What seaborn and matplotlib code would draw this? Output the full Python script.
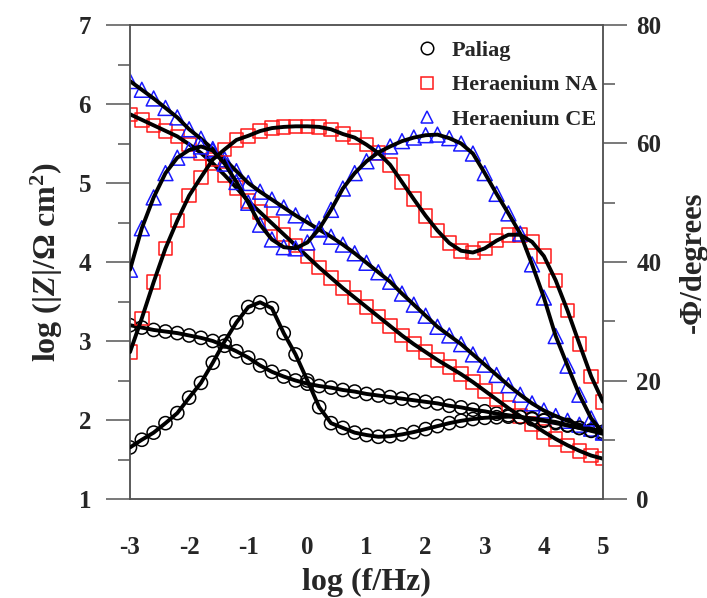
import numpy as np
import pandas as pd
import matplotlib
matplotlib.use("Agg")
import matplotlib.pyplot as plt
import seaborn as sns
from matplotlib.lines import Line2D
from matplotlib.ticker import MultipleLocator

# ---------------- data ----------------
log_f = [-3.0, -2.8, -2.6, -2.4, -2.2, -2.0, -1.8, -1.6, -1.4, -1.2, -1.0, -0.8, -0.6, -0.4,
         -0.2, 0.0, 0.2, 0.4, 0.6, 0.8, 1.0, 1.2, 1.4, 1.6, 1.8, 2.0, 2.2, 2.4, 2.6, 2.8,
         3.0, 3.2, 3.4, 3.6, 3.8, 4.0, 4.2, 4.4, 4.6, 4.8, 5.0]

paliag_logz = [3.20, 3.17, 3.14, 3.12, 3.10, 3.07, 3.04, 3.00, 2.94, 2.87, 2.79, 2.69, 2.61, 2.55,
               2.50, 2.46, 2.43, 2.41, 2.38, 2.36, 2.33, 2.31, 2.29, 2.27, 2.25, 2.23, 2.21, 2.18,
               2.16, 2.13, 2.11, 2.08, 2.06, 2.04, 2.01, 1.99, 1.96, 1.93, 1.90, 1.87, 1.85]
paliag_phase = [8.7, 10.0, 11.2, 12.8, 14.5, 17.1, 19.6, 23.0, 26.6, 29.8, 32.4, 33.2, 32.2, 28.0,
                24.4, 20.0, 15.5, 12.8, 12.0, 11.2, 10.8, 10.5, 10.6, 10.9, 11.3, 11.8, 12.3, 12.8,
                13.2, 13.5, 13.7, 13.8, 13.9, 13.8, 13.6, 13.3, 13.0, 12.5, 12.0, 11.5, 11.0]

na_logz = [5.87, 5.80, 5.73, 5.66, 5.59, 5.49, 5.38, 5.25, 5.10, 4.94, 4.77, 4.63, 4.49, 4.35,
           4.21, 4.07, 3.93, 3.80, 3.67, 3.55, 3.43, 3.31, 3.19, 3.07, 2.96, 2.86, 2.76, 2.67,
           2.58, 2.48, 2.37, 2.26, 2.15, 2.05, 1.95, 1.85, 1.76, 1.68, 1.61, 1.55, 1.51]
na_phase = [24.8, 30.5, 36.6, 42.3, 47.0, 51.2, 54.3, 57.3, 59.0, 60.6, 61.3, 62.1, 62.6, 62.8,
            62.9, 62.9, 62.8, 62.4, 61.6, 61.0, 59.8, 58.4, 56.4, 53.5, 50.6, 47.8, 45.3, 43.2,
            41.9, 41.6, 42.3, 43.6, 44.6, 44.6, 43.4, 41.0, 36.9, 31.8, 26.2, 20.7, 16.4]

ce_logz = [6.29, 6.18, 6.07, 5.95, 5.83, 5.68, 5.56, 5.43, 5.30, 5.15, 5.00, 4.89, 4.79, 4.69,
           4.59, 4.50, 4.41, 4.32, 4.22, 4.11, 3.99, 3.87, 3.75, 3.60, 3.46, 3.32, 3.18, 3.07,
           2.96, 2.83, 2.70, 2.57, 2.44, 2.32, 2.21, 2.12, 2.05, 1.99, 1.94, 1.89, 1.85]
ce_phase = [38.7, 45.7, 50.9, 55.0, 57.6, 58.9, 59.5, 58.8, 56.6, 53.5, 50.0, 46.3, 43.8, 42.5,
            42.3, 43.3, 45.6, 48.8, 52.4, 55.0, 57.0, 58.5, 59.5, 60.4, 61.0, 61.4, 61.5, 60.9,
            60.0, 58.3, 55.0, 51.5, 48.2, 44.8, 39.6, 34.0, 27.5, 22.5, 17.6, 13.6, 11.2]

series_names = ["Paliag", "Heraenium NA", "Heraenium CE"]
x_ticks = [-3, -2, -1, 0, 1, 2, 3, 4, 5]
left_ticks = [1, 2, 3, 4, 5, 6, 7]
right_ticks = [0, 20, 40, 60, 80]

# ---------------- style ----------------
sns.set_style("white")
plt.rcParams["font.family"] = ["Liberation Serif", "DejaVu Serif"]
plt.rcParams["font.weight"] = "bold"
plt.rcParams["axes.unicode_minus"] = False
plt.rcParams["mathtext.fontset"] = "custom"
plt.rcParams["mathtext.rm"] = "Liberation Serif:bold"
plt.rcParams["mathtext.bf"] = "Liberation Serif:bold"
plt.rcParams["mathtext.it"] = "Liberation Serif:bold:italic"

styles = {
    "Paliag": dict(marker="o", ec="black", s=90),
    "Heraenium NA": dict(marker="s", ec="#ff1a1a", s=95),
    "Heraenium CE": dict(marker="^", ec="#1a1aff", s=115),
}
zdata = {"Paliag": paliag_logz, "Heraenium NA": na_logz, "Heraenium CE": ce_logz}
pdata = {"Paliag": paliag_phase, "Heraenium NA": na_phase, "Heraenium CE": ce_phase}

fig = plt.figure(figsize=(7.07, 5.98), dpi=100)
ax = fig.add_axes([130 / 707, 1 - 499 / 598, 473 / 707, 474 / 598])
ax2 = ax.twinx()

for name in series_names:
    st = styles[name]
    df_z = pd.DataFrame({"x": log_f, "y": zdata[name]})
    df_p = pd.DataFrame({"x": log_f, "y": pdata[name]})
    sns.scatterplot(data=df_z, x="x", y="y", ax=ax, marker=st["marker"], s=st["s"],
                    facecolor="none", edgecolor=st["ec"], linewidth=1.1, zorder=2)
    sns.lineplot(data=df_z, x="x", y="y", ax=ax, color="black", lw=2.8, zorder=3,
                 estimator=None, sort=True)
    sns.scatterplot(data=df_p, x="x", y="y", ax=ax2, marker=st["marker"], s=st["s"],
                    facecolor="none", edgecolor=st["ec"], linewidth=1.1, zorder=2)
    sns.lineplot(data=df_p, x="x", y="y", ax=ax2, color="black", lw=2.8, zorder=3,
                 estimator=None, sort=True)

spine_col = "#555555"
ax.set_xlim(-3, 5)
ax.set_ylim(1, 7)
ax2.set_ylim(0, 80)
ax.set_xticks(x_ticks)
ax.set_yticks(left_ticks)
ax2.set_yticks(right_ticks)
ax.xaxis.set_minor_locator(MultipleLocator(0.5))
ax.yaxis.set_minor_locator(MultipleLocator(0.5))
ax2.yaxis.set_minor_locator(MultipleLocator(10))

ax.tick_params(axis="both", which="major", direction="out", length=17, width=1.1,
               color=spine_col, labelsize=18)
ax.tick_params(axis="both", which="minor", direction="out", length=8.5, width=1.1,
               color=spine_col)
ax.tick_params(axis="x", which="major", pad=10)
ax.tick_params(axis="y", which="major", pad=11)
ax.tick_params(top=False, right=False, which="both")
ax2.tick_params(axis="y", which="major", direction="out", length=17, width=1.1,
                color=spine_col, labelsize=18, pad=7)
ax2.tick_params(axis="y", which="minor", direction="out", length=8.5, width=1.1,
                color=spine_col)
for a in (ax, ax2):
    for sp in a.spines.values():
        sp.set_color(spine_col)
        sp.set_linewidth(1.1)
    for lab in a.get_xticklabels() + a.get_yticklabels():
        lab.set_fontweight("bold")

ax.set_xlabel("log (f/Hz)", fontsize=23, fontweight="bold")
ax.set_ylabel(r"log (|$\mathit{Z}$|/Ω cm$^{2}$)", fontsize=23, fontweight="bold")
ax2.set_ylabel("-Φ/degrees", fontsize=22, fontweight="bold")
ax.xaxis.set_label_coords(0.5, -0.145)
ax.yaxis.set_label_coords(-0.138, 0.5)
ax2.yaxis.set_label_coords(1.16, 0.5)

handles = [Line2D([], [], ls="none", marker=styles[n]["marker"], mfc="none",
                  mec=styles[n]["ec"], ms=9, mew=1.1) for n in series_names]
leg = ax2.legend(handles, series_names, loc="upper left", bbox_to_anchor=(0.572, 1.0),
                 frameon=False, prop=dict(family="Liberation Serif", weight="bold", size=16),
                 handlelength=1.0, handletextpad=0.6, labelspacing=0.62, borderpad=0.2)

fig.savefig("out.png", dpi=100)
